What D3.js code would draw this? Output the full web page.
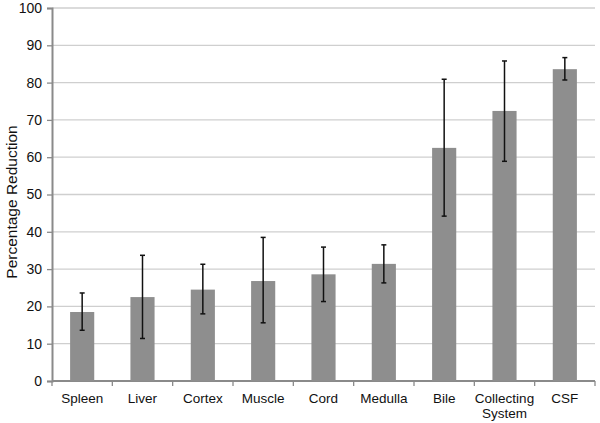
<!DOCTYPE html>
<html>
<head>
<meta charset="utf-8">
<script src="https://cdn.jsdelivr.net/npm/d3@7"></script>
<style>
  body { margin: 0; background: #fff; }
  text { font-family: "Liberation Sans", Arial, sans-serif; fill: #111; }
</style>
</head>
<body>
<svg id="chart" width="600" height="423"></svg>
<script>
// data
const categories = ['Spleen', 'Liver', 'Cortex', 'Muscle', 'Cord', 'Medulla', 'Bile', 'Collecting System', 'CSF']
const values = [18.5, 22.5, 24.5, 26.8, 28.6, 31.4, 62.5, 72.4, 83.6]
const errLow = [13.6, 11.4, 18.0, 15.6, 21.3, 26.3, 44.2, 58.9, 80.7]
const errHigh = [23.6, 33.7, 31.3, 38.5, 35.9, 36.5, 80.9, 85.8, 86.7]
const yTicks = [0, 10, 20, 30, 40, 50, 60, 70, 80, 90, 100]

const data = categories.map((c, i) => ({ name: c, value: values[i], lo: errLow[i], hi: errHigh[i] }))

const margin = { top: 8, right: 5, bottom: 42, left: 52 }
const width = 600 - margin.left - margin.right
const height = 423 - margin.top - margin.bottom

const svg = d3.select('#chart')
const g = svg.append('g').attr('transform', `translate(${margin.left},${margin.top})`)

const x = d3.scaleBand().domain(categories).range([0, width]).paddingInner(0.6).paddingOuter(0.3)
const y = d3.scaleLinear().domain([0, 100]).range([height, 0])

// gridlines
g.append('g')
  .selectAll('line')
  .data(yTicks.filter(t => t > 0))
  .enter().append('line')
  .attr('x1', 0).attr('x2', width)
  .attr('y1', d => y(d)).attr('y2', d => y(d))
  .attr('stroke', '#cfcfcf').attr('stroke-width', 1.3)

// y axis
const yAxis = g.append('g')
  .call(d3.axisLeft(y).tickValues(yTicks).tickSize(5).tickPadding(5))
yAxis.select('.domain').attr('stroke', '#8a8a8a').attr('stroke-width', 2)
yAxis.selectAll('.tick line').attr('stroke', '#8a8a8a').attr('stroke-width', 1.3)
yAxis.selectAll('.tick text').style('font-size', '14px').attr('fill', '#111')

// x axis with ticks between categories
const xAxisG = g.append('g').attr('transform', `translate(0,${height})`)
xAxisG.append('line')
  .attr('x1', 0).attr('x2', width)
  .attr('stroke', '#8a8a8a').attr('stroke-width', 2)
xAxisG.selectAll('.sep')
  .data(d3.range(categories.length + 1))
  .enter().append('line')
  .attr('x1', i => i * width / categories.length)
  .attr('x2', i => i * width / categories.length)
  .attr('y1', 0).attr('y2', 5)
  .attr('stroke', '#8a8a8a').attr('stroke-width', 1.3)

const labels = xAxisG.selectAll('.lab')
  .data(categories)
  .enter().append('text')
  .attr('x', d => x(d) + x.bandwidth() / 2)
  .attr('y', 22)
  .attr('text-anchor', 'middle')
  .style('font-size', '13.5px')
labels.each(function (d) {
  const words = d.split(' ')
  const t = d3.select(this)
  words.forEach((w, i) => {
    t.append('tspan').attr('x', x(d) + x.bandwidth() / 2).attr('dy', i === 0 ? 0 : 15).text(w)
  })
})

// bars
g.selectAll('.bar')
  .data(data)
  .enter().append('rect')
  .attr('x', d => x(d.name))
  .attr('y', d => y(d.value))
  .attr('width', x.bandwidth())
  .attr('height', d => height - y(d.value))
  .attr('fill', '#8e8e8e')

// error bars
const eb = g.selectAll('.err').data(data).enter().append('g')
eb.append('line')
  .attr('x1', d => x(d.name) + x.bandwidth() / 2)
  .attr('x2', d => x(d.name) + x.bandwidth() / 2)
  .attr('y1', d => y(d.lo)).attr('y2', d => y(d.hi))
  .attr('stroke', '#111').attr('stroke-width', 1.5)
eb.selectAll('.cap')
  .data(d => [[d, d.lo], [d, d.hi]])
  .enter().append('line')
  .attr('x1', d => x(d[0].name) + x.bandwidth() / 2 - 2.5)
  .attr('x2', d => x(d[0].name) + x.bandwidth() / 2 + 2.5)
  .attr('y1', d => y(d[1])).attr('y2', d => y(d[1]))
  .attr('stroke', '#111').attr('stroke-width', 1.5)

// y axis title
svg.append('text')
  .attr('transform', 'translate(17,202) rotate(-90)')
  .attr('text-anchor', 'middle')
  .style('font-size', '15.5px')
  .text('Percentage Reduction')
</script>
</body>
</html>
